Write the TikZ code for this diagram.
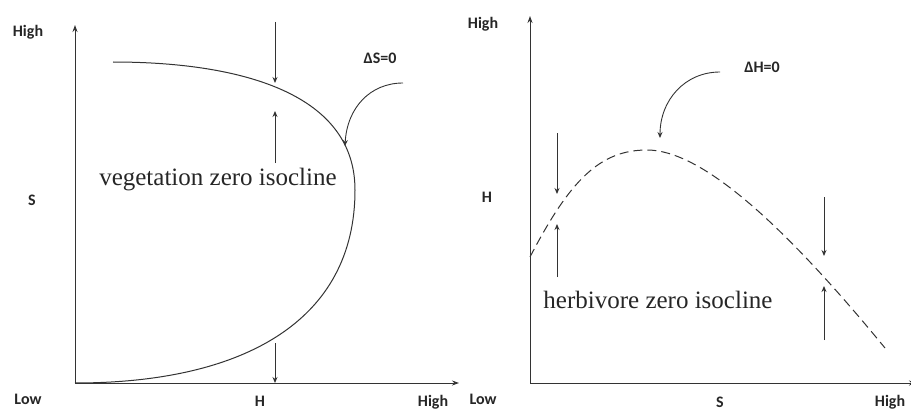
\documentclass[tikz,border=0pt]{standalone}
\usepackage{fontspec}
\setmainfont{Liberation Serif}
\newfontfamily\lblfont{Carlito}
\usetikzlibrary{arrows.meta}
\begin{document}
\begin{tikzpicture}[x=1pt,y=-1pt,
  ink/.style={draw=black!80,line width=0.9pt},
  axis/.style={ink,-{Stealth[length=7pt,width=5pt]}},
  flow/.style={ink,-{Stealth[length=6pt,width=5pt]}},
  lbl/.style={font=\lblfont\bfseries\fontsize{16}{16}\selectfont,text=black!85,inner sep=0pt},
  iso/.style={font=\fontsize{25}{25}\selectfont,text=black!85,inner sep=0pt},
  curve/.style={ink,line width=1pt}]
\useasboundingbox (0,0) rectangle (911,412);
% ---------- left panel ----------
\coordinate (LO) at (75,383);
\coordinate (LY) at (75,25);
\coordinate (LX) at (459,383);
\draw[axis] (LO) -- (LY);
\draw[axis] (LO) -- (LX);
\node[lbl] (lhigh) at (28,32) {High};
\node[lbl] (llow) at (28,399) {Low};
\node[lbl] (lS) at (32,200) {S};
\node[lbl] (lH) at (260,401) {H};
\node[lbl] (lhighx) at (433,402) {High};
\coordinate (VA) at (113,62);
\coordinate (VR) at (355,190);
\draw[curve] (VA) .. controls (233,62) and (355,90) .. (VR)
  .. controls (355,320) and (245,383) .. (LO);
\node[iso] (veg) at (218,180) {vegetation zero isocline};
\node[lbl] (dS) at (380,58) {ΔS=0};
\coordinate (dSs) at (403,83);
\coordinate (dSe) at (345,146);
\draw[flow] (dSs) .. controls (370,83) and (347,108) .. (dSe);
\coordinate (a1s) at (275,22); \coordinate (a1e) at (275,83);
\coordinate (a2s) at (275,163); \coordinate (a2e) at (275,111);
\coordinate (a3s) at (275,343); \coordinate (a3e) at (275,383);
\draw[flow] (a1s) -- (a1e);
\draw[flow] (a2s) -- (a2e);
\draw[flow] (a3s) -- (a3e);
% ---------- right panel ----------
\coordinate (RO) at (530,383);
\coordinate (RY) at (530,16);
\coordinate (RX) at (916,383);
\draw[axis] (RO) -- (RY);
\draw[axis] (RO) -- (RX);
\node[lbl] (rhigh) at (483,24) {High};
\node[lbl] (rH) at (487,197) {H};
\node[lbl] (rlow) at (483,399) {Low};
\node[lbl] (rS) at (720,402) {S};
\node[lbl] (rhighx) at (890,402) {High};
\coordinate (HA) at (530,257);
\coordinate (HP) at (647,150);
\coordinate (HE) at (885,348);
\draw[curve,dash pattern=on 9pt off 5pt] (HA) .. controls (570,180) and (600,150) .. (HP)
  .. controls (700,150) and (780,220) .. (HE);
\node[iso] (herb) at (658,300) {herbivore zero isocline};
\node[lbl] (dH) at (762,67) {ΔH=0};
\coordinate (dHs) at (720,72);
\coordinate (dHe) at (660,138);
\draw[flow] (dHs) .. controls (685,72) and (660,100) .. (dHe);
\coordinate (b1s) at (557,133); \coordinate (b1e) at (557,194);
\coordinate (b2s) at (557,277); \coordinate (b2e) at (557,224);
\coordinate (b3s) at (824,197); \coordinate (b3e) at (824,256);
\coordinate (b4s) at (824,340); \coordinate (b4e) at (824,286);
\draw[flow] (b1s) -- (b1e);
\draw[flow] (b2s) -- (b2e);
\draw[flow] (b3s) -- (b3e);
\draw[flow] (b4s) -- (b4e);
\end{tikzpicture}
\end{document}
